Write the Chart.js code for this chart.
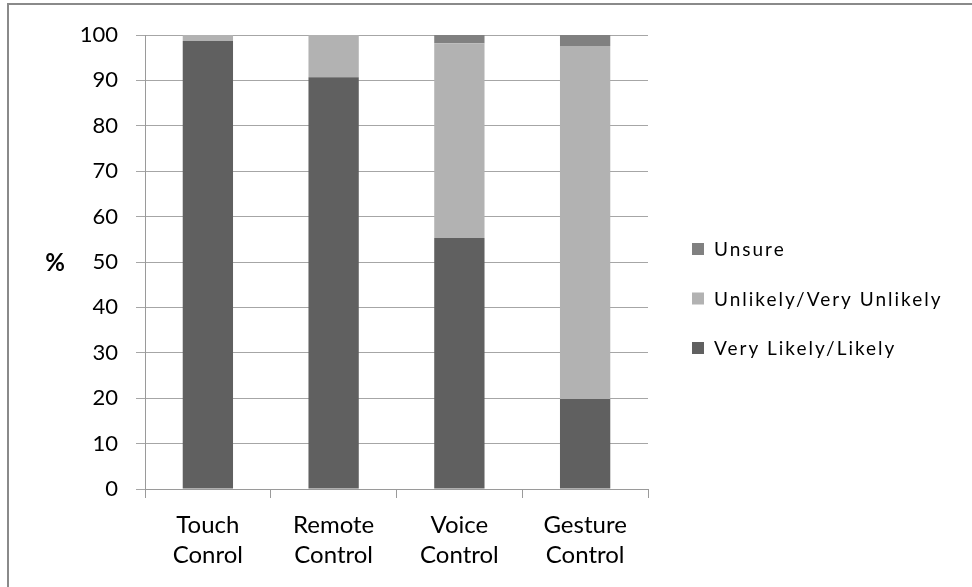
<!DOCTYPE html>
<html>
<head>
<meta charset="utf-8">
<script src="https://cdn.jsdelivr.net/npm/chart.js@4.4.1/dist/chart.umd.min.js"></script>
<style>
  html, body { margin: 0; padding: 0; background: #ffffff; }
  #wrap { width: 972px; height: 587px; position: relative; }
</style>
</head>
<body>
<div id="wrap"><canvas id="chart" width="972" height="587"></canvas></div>
<script>
// Survey: likelihood of using each TV control method (%)
const categories = [['Touch', 'Conrol'], ['Remote', 'Control'], ['Voice', 'Control'], ['Gesture', 'Control']];
const seriesNames = ['Very Likely/Likely', 'Unlikely/Very Unlikely', 'Unsure'];
const likelyValues = [98.7, 90.7, 55.3, 19.8];
const unlikelyValues = [1.3, 9.3, 42.9, 77.8];
const unsureValues = [0, 0, 1.8, 2.4];
const yTickValues = [0, 10, 20, 30, 40, 50, 60, 70, 80, 90, 100];
const yAxisTitle = '%';

const seriesColors = ['#606060', '#b2b2b2', '#808080'];
const FONT = 'Lato, "Open Sans", sans-serif';

// Legend drawn at the right, top entry is the last series (stack order)
const sideLegend = {
  id: 'sideLegend',
  afterDraw(chart, args, opts) {
    const ctx = chart.ctx;
    const items = chart.data.datasets.map(d => ({ label: d.label, color: d.backgroundColor })).reverse();
    ctx.save();
    ctx.font = opts.font;
    ctx.textBaseline = 'middle';
    ctx.textAlign = 'left';
    if ('letterSpacing' in ctx) ctx.letterSpacing = opts.letterSpacing;
    items.forEach((it, i) => {
      const cy = opts.firstY + i * opts.rowGap;
      ctx.fillStyle = it.color;
      ctx.fillRect(opts.x, cy - opts.box / 2, opts.box, opts.box);
      ctx.fillStyle = '#000';
      ctx.fillText(it.label, opts.x + opts.box + opts.gap, cy + 1);
    });
    ctx.restore();
  }
};

// Horizontal "%" caption beside the value axis, plus the outer frame
const decor = {
  id: 'decor',
  afterDraw(chart, args, opts) {
    const ctx = chart.ctx;
    const y = chart.scales.y;
    ctx.save();
    ctx.font = 'bold 24px ' + FONT;
    ctx.fillStyle = '#000';
    ctx.textAlign = 'center';
    ctx.textBaseline = 'middle';
    ctx.fillText(yAxisTitle, opts.titleX, (y.top + y.bottom) / 2 + 1);
    ctx.strokeStyle = '#8a8a8a';
    ctx.lineWidth = 2;
    ctx.beginPath();
    ctx.moveTo(opts.frameX, chart.height + 2);
    ctx.lineTo(opts.frameX, opts.frameY);
    ctx.lineTo(chart.width + 2, opts.frameY);
    ctx.stroke();
    ctx.restore();
  }
};

new Chart(document.getElementById('chart'), {
  type: 'bar',
  data: {
    labels: categories,
    datasets: [
      { label: seriesNames[0], data: likelyValues, backgroundColor: seriesColors[0] },
      { label: seriesNames[1], data: unlikelyValues, backgroundColor: seriesColors[1] },
      { label: seriesNames[2], data: unsureValues, backgroundColor: seriesColors[2] }
    ]
  },
  options: {
    responsive: false,
    animation: false,
    devicePixelRatio: 1,
    layout: { padding: { left: 0, top: 35, right: 324, bottom: 0 } },
    datasets: { bar: { categoryPercentage: 1, barPercentage: 0.4, borderWidth: 0 } },
    plugins: {
      legend: { display: false },
      tooltip: { enabled: false },
      sideLegend: { x: 692, firstY: 249, rowGap: 49.5, box: 12, gap: 10, font: '19px ' + FONT, letterSpacing: '2px' },
      decor: { titleX: 55, frameX: 8, frameY: 4 }
    },
    scales: {
      x: {
        stacked: true,
        afterFit(scale) { scale.height = 98; },
        grid: { offset: true, drawOnChartArea: false, drawTicks: true, tickLength: 9, color: '#9a9a9a' },
        border: { display: true, color: '#9a9a9a', width: 1 },
        ticks: { padding: 12, color: '#000', font: { family: FONT, size: 24, lineHeight: 30 / 24 } }
      },
      y: {
        stacked: true,
        min: 0,
        max: 100,
        afterFit(scale) { scale.width = 145; },
        afterBuildTicks(scale) { scale.ticks = yTickValues.map(v => ({ value: v })); },
        grid: { color: '#a6a6a6', tickLength: 9, drawTicks: true },
        border: { display: true, color: '#9a9a9a', width: 1 },
        ticks: { padding: 18, color: '#000', font: { family: FONT, size: 22 } }
      }
    }
  },
  plugins: [sideLegend, decor]
});
</script>
</body>
</html>
